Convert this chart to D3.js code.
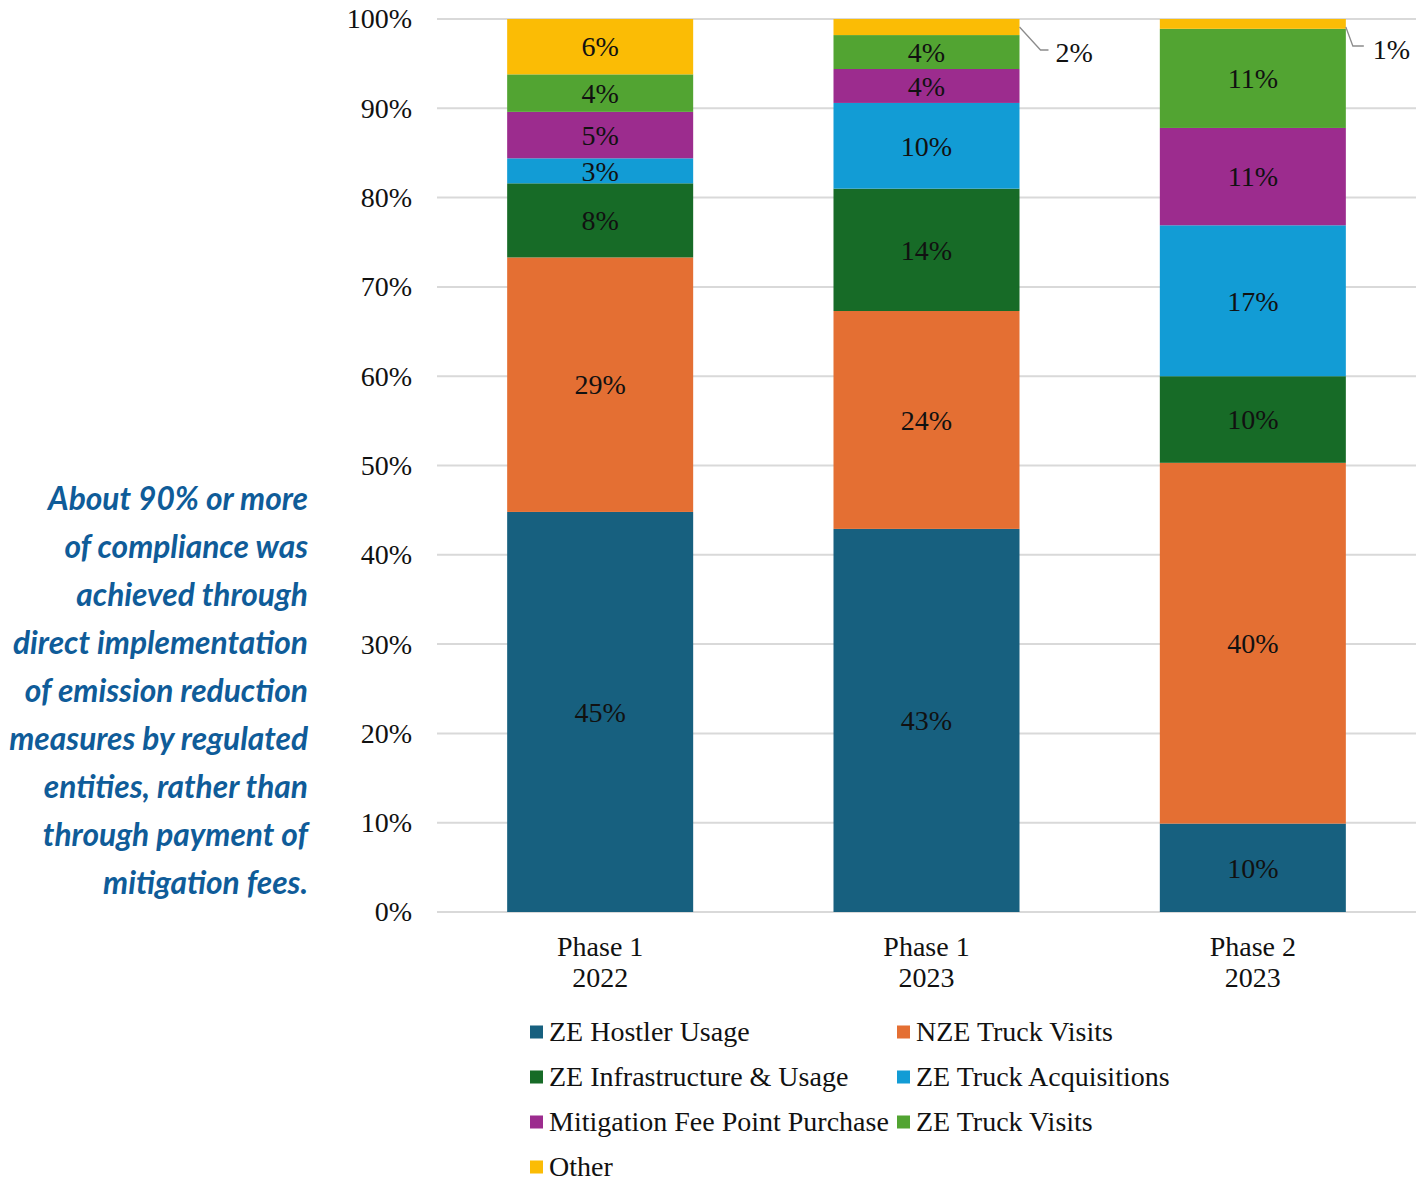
<!DOCTYPE html>
<html><head><meta charset="utf-8">
<script src="https://cdn.jsdelivr.net/npm/d3@7"></script>
<style>body{margin:0;background:#fff}svg{display:block}</style>
</head><body>
<svg id="c" width="1423" height="1182"></svg>
<script>
const categories = [["Phase 1","2022"],["Phase 1","2023"],["Phase 2","2023"]];
const seriesNames = ["ZE Hostler Usage","NZE Truck Visits","ZE Infrastructure & Usage","ZE Truck Acquisitions","Mitigation Fee Point Purchase","ZE Truck Visits","Other"];
const seriesColors = ["#17607f","#e46f33","#176b27","#129cd5","#9c2c8e","#52a432","#fbbc05"];
const hostler      = [44.8, 42.9, 9.9];
const nzeVisits    = [28.5, 24.4, 40.4];
const zeInfra      = [8.3, 13.7, 9.7];
const zeAcq        = [2.8, 9.6, 16.9];
const mitigation   = [5.2, 3.8, 10.9];
const zeVisits     = [4.2, 3.8, 11.1];
const other        = [6.2, 1.8, 1.1];
const yTicks = [0,10,20,30,40,50,60,70,80,90,100];
const annotation = ["About 90% or more","of compliance was","achieved through","direct implementation","of emission reduction","measures by regulated","entities, rather than","through payment of","mitigation fees."];

const seriesVals = [hostler,nzeVisits,zeInfra,zeAcq,mitigation,zeVisits,other];
const svg = d3.select("#c");
const serif = "'Liberation Serif','Times New Roman',serif";
const FS = 28;

const x = d3.scaleBand().domain(d3.range(categories.length)).range([437,1416]).paddingInner(0.43).paddingOuter(0.215);
const y = d3.scaleLinear().domain([0,100]).range([912,19]);

// gridlines
svg.append("g").selectAll("line").data(yTicks).join("line")
  .attr("x1",437).attr("x2",1416).attr("y1",d=>y(d)).attr("y2",d=>y(d))
  .attr("stroke","#d9d9d9").attr("stroke-width",2);

// y axis labels
const yAxis = d3.axisLeft(y).tickValues(yTicks).tickFormat(d=>d+"%").tickSize(0).tickPadding(0);
const ya = svg.append("g").attr("transform","translate(412,0)").call(yAxis);
ya.select(".domain").remove();
ya.selectAll("text").attr("font-family",serif).attr("font-size",FS).attr("fill","#111").attr("dy","0.32em");

// stack
const rows = categories.map((c,i)=>{const o={i}; seriesNames.forEach((s,k)=>o[s]=seriesVals[k][i]); return o;});
const stack = d3.stack().keys(seriesNames)(rows);

const g = svg.append("g");
stack.forEach((layer,k)=>{
  g.append("g").selectAll("rect").data(layer).join("rect")
    .attr("x",d=>x(d.data.i)).attr("width",x.bandwidth())
    .attr("y",d=>y(d[1])).attr("height",d=>y(d[0])-y(d[1]))
    .attr("fill",seriesColors[k]);
});

// labels inside
stack.forEach((layer,k)=>{
  layer.forEach(d=>{
    const v = d[1]-d[0];
    const lbl = Math.round(v)+"%";
    if (k===6 && v<3) {
      const xr = x(d.data.i)+x.bandwidth();
      const yt = y(d[1]);
      const big = d.data.i===1;
      const dx = big ? 21 : 7, dy = big ? 31 : 27, hx = big ? 8 : 11, lx = big ? 36 : 27, ly = big ? 33 : 30;
      svg.append("path").attr("d",`M${xr},${yt+8} L${xr+dx},${yt+dy} L${xr+dx+hx},${yt+dy}`)
        .attr("fill","none").attr("stroke","#8c8c8c").attr("stroke-width",1.3);
      svg.append("text").attr("x",xr+lx).attr("y",yt+ly).attr("dy","0.35em")
        .attr("font-family",serif).attr("font-size",FS).attr("fill","#111").text(lbl);
    } else {
      svg.append("text").attr("x",x(d.data.i)+x.bandwidth()/2).attr("y",(y(d[0])+y(d[1]))/2)
        .attr("dy","0.35em").attr("text-anchor","middle")
        .attr("font-family",serif).attr("font-size",FS).attr("fill","#111").text(lbl);
    }
  });
});

// x labels
categories.forEach((c,i)=>{
  const t = svg.append("text").attr("text-anchor","middle").attr("font-family",serif).attr("font-size",FS).attr("fill","#111");
  t.append("tspan").attr("x",x(i)+x.bandwidth()/2).attr("y",956).text(c[0]);
  t.append("tspan").attr("x",x(i)+x.bandwidth()/2).attr("y",987).text(c[1]);
});

// legend
const legPos = seriesNames.map((s,k)=>({s,k,col:k%2,row:Math.floor(k/2)}));
const lg = svg.append("g").selectAll("g").data(legPos).join("g")
  .attr("transform",d=>`translate(${d.col?897:530},${1031.5+d.row*45})`);
lg.append("rect").attr("x",0).attr("y",-6).attr("width",13).attr("height",13).attr("fill",d=>seriesColors[d.k]);
lg.append("text").attr("x",19).attr("y",0).attr("dy","0.33em").attr("font-family",serif).attr("font-size",FS).attr("fill","#111").text(d=>d.s);

// annotation
svg.append("g").selectAll("text").data(annotation).join("text")
  .attr("x",308).attr("y",(d,i)=>510+i*48).attr("text-anchor","end")
  .attr("font-family","Lato, 'Open Sans', sans-serif").attr("font-style","italic").attr("font-weight",700)
  .attr("font-size",31.7).attr("fill","#0f5c99").text(d=>d);
</script>
</body></html>
